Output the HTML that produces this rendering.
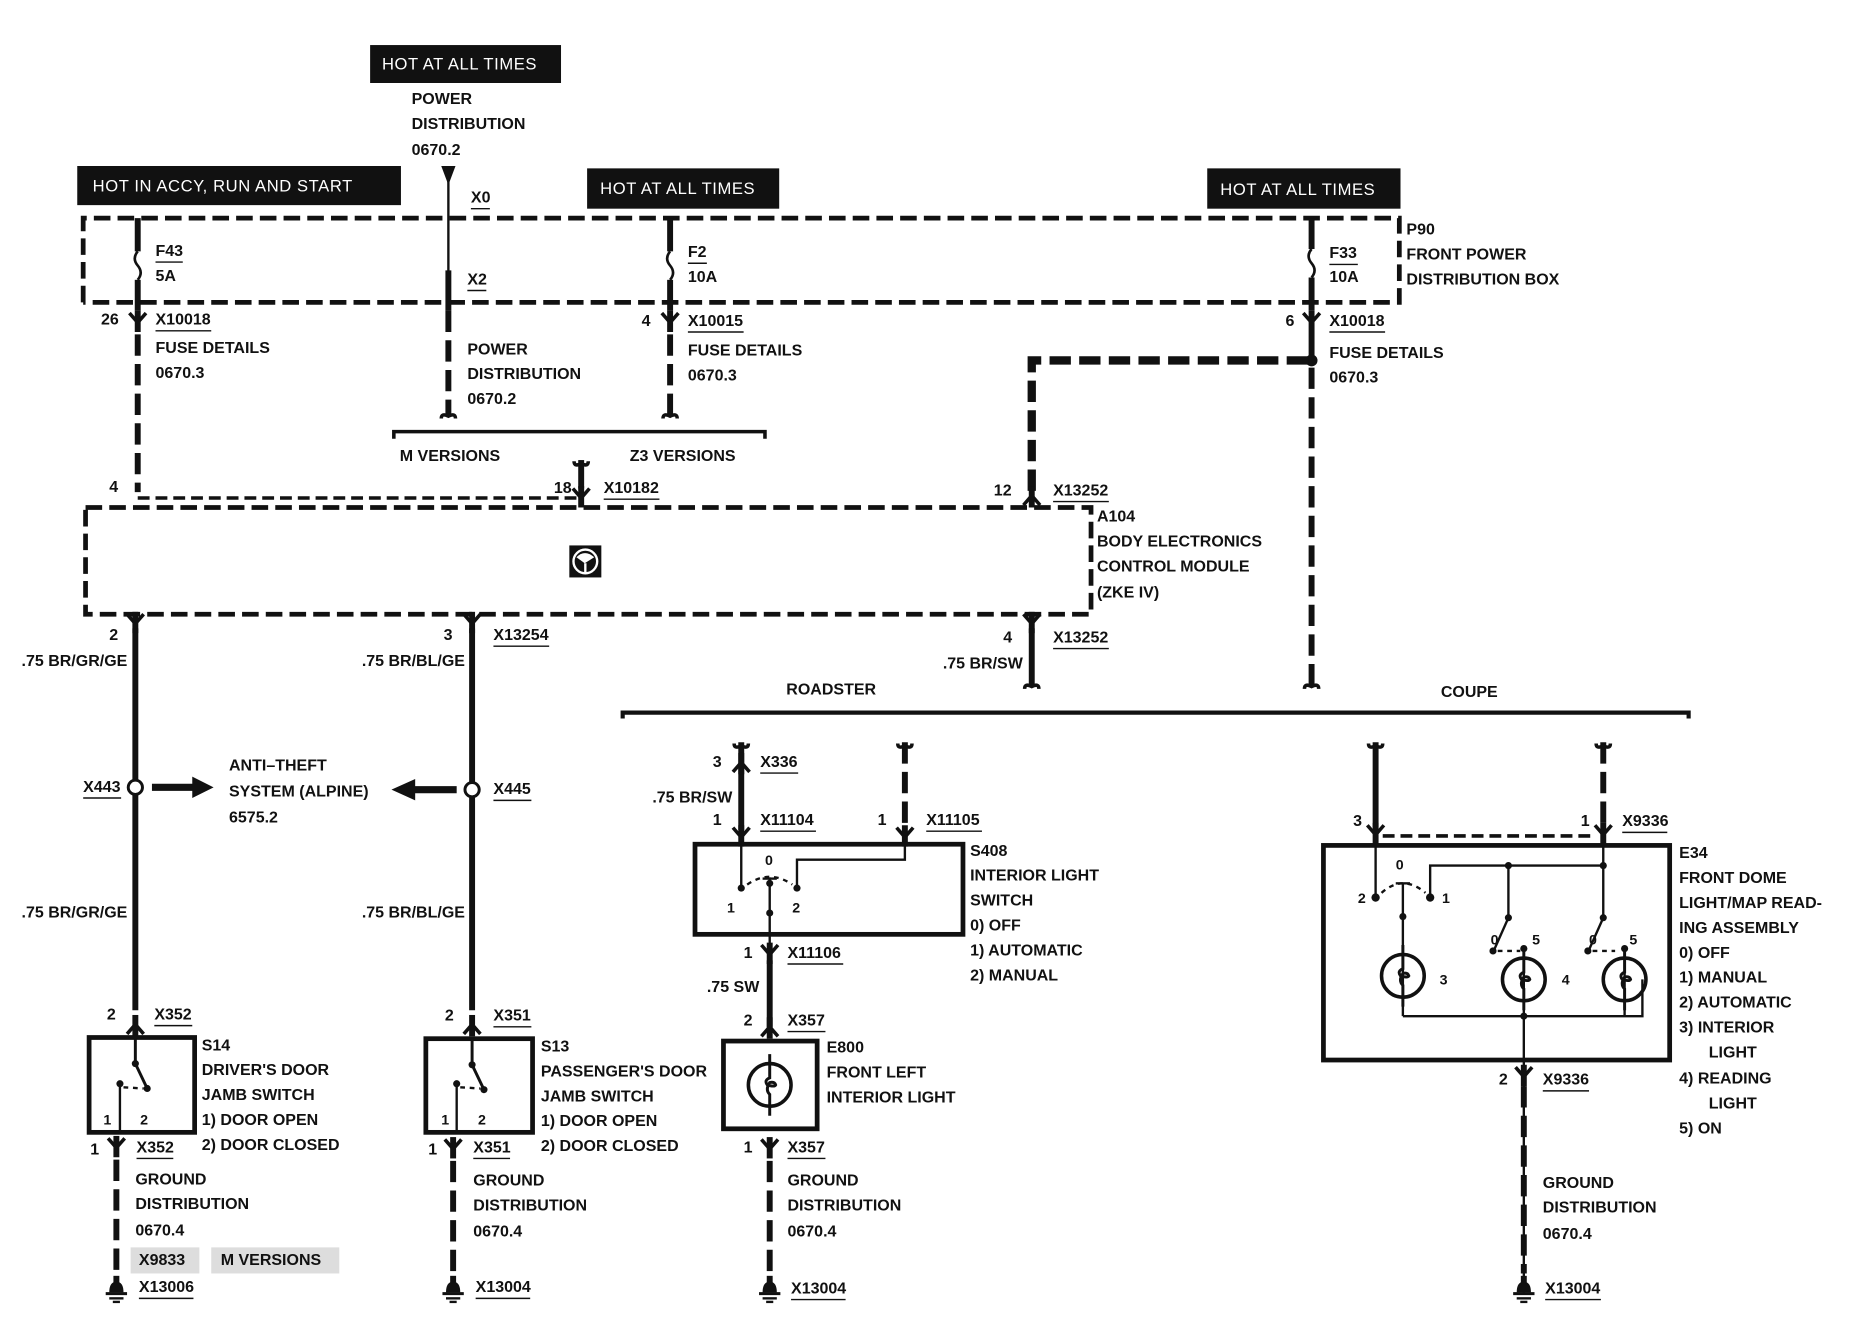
<!DOCTYPE html>
<html><head><meta charset="utf-8"><style>
html,body{margin:0;padding:0;background:#fff}
svg{display:block}
text{font-family:"Liberation Sans",sans-serif;font-size:13.5px;font-weight:bold;fill:#111;dominant-baseline:central}
.w{fill:#fff;font-size:14px;letter-spacing:0.5px;font-weight:normal}
.th{stroke:#111;stroke-width:5;fill:none}
.tn{stroke:#111;stroke-width:2;fill:none}
.dh{stroke:#111;stroke-width:5;fill:none;stroke-dasharray:18 7}
.db{stroke:#111;stroke-width:4;fill:none;stroke-dasharray:14 6}
.ul{stroke:#111;stroke-width:1.2}
</style></head><body>
<svg width="1856" height="1328" viewBox="0 0 1565 1120" xmlns="http://www.w3.org/2000/svg">
<defs>
<g id="cd"><path d="M-7,-6 L0,2 L7,-6" stroke="#111" stroke-width="3" fill="none"/><line x1="0" y1="-8" x2="0" y2="10" stroke="#111" stroke-width="5"/></g>
<g id="cu"><path d="M-7,6 L0,-2 L7,6" stroke="#111" stroke-width="3" fill="none"/><line x1="0" y1="-10" x2="0" y2="8" stroke="#111" stroke-width="5"/></g>
<g id="hk"><path d="M-6,-3 Q-6,-8 0,-5 Q6,-8 6,-3" stroke="#111" stroke-width="3" fill="none"/></g>
<g id="hu"><path d="M-6,3 Q-6,8 0,5 Q6,8 6,3" stroke="#111" stroke-width="3" fill="none"/></g>
<g id="fuse"><path d="M0,0 Q-5,6 0,12 Q5,18 0,24" stroke="#111" stroke-width="2.2" fill="none"/></g>
<g id="gnd"><line x1="0" y1="-12" x2="0" y2="-4" stroke="#111" stroke-width="5"/><path d="M-6,2 Q-6,-7 0,-7 Q6,-7 6,2 Z" fill="#111"/><line x1="-9" y1="3" x2="9" y2="3" stroke="#111" stroke-width="2.5"/><line x1="-6" y1="7" x2="6" y2="7" stroke="#111" stroke-width="2"/><line x1="-3" y1="10" x2="3" y2="10" stroke="#111" stroke-width="2"/></g>
<g id="lamp"><circle r="18" stroke="#111" stroke-width="3" fill="none"/><path d="M0,-26 L0,-6 Q-5,-4 -2,0 Q4,2 5,0 Q4,-3 0,-2 Q-4,4 0,8 L0,26" stroke="#111" stroke-width="2.5" fill="none"/></g>
</defs>

<rect x="312" y="38" width="161" height="32" fill="#111"/><text class="w" x="322" y="54">HOT AT ALL TIMES</text>
<rect x="65" y="140" width="273" height="33" fill="#111"/><text class="w" x="78" y="157">HOT IN ACCY, RUN AND  START</text>
<rect x="495" y="142" width="162" height="34" fill="#111"/><text class="w" x="506" y="159">HOT AT ALL TIMES</text>
<rect x="1018" y="142" width="163" height="34" fill="#111"/><text class="w" x="1029" y="160">HOT AT ALL TIMES</text>

<path class="db" d="M70,255 L70,184 L1180,184 L1180,255 L70,255"/>
<text x="1186" y="194">P90</text><text x="1186" y="215">FRONT POWER</text><text x="1186" y="236">DISTRIBUTION BOX</text>

<line class="th" x1="116" y1="184" x2="116" y2="212"/><use href="#fuse" x="116" y="212"/><line class="th" x1="116" y1="236" x2="116" y2="262"/>
<use href="#cd" x="116" y="270"/><line class="dh" x1="116" y1="282" x2="116" y2="415"/>
<text x="131" y="212">F43</text><line class="ul" x1="131" y1="221" x2="154" y2="221"/><text x="131" y="233">5A</text>
<text x="85" y="270">26</text><text x="131" y="270">X10018</text><line class="ul" x1="131" y1="279" x2="178" y2="279"/>
<text x="131" y="294">FUSE DETAILS</text><text x="131" y="315">0670.3</text>
<text x="92" y="411">4</text>

<path d="M372,140 L384,140 L378,156 Z" fill="#111"/><line class="tn" x1="378" y1="150" x2="378" y2="232"/>
<line class="th" x1="378" y1="228" x2="378" y2="262"/><line class="dh" x1="378" y1="262" x2="378" y2="350"/><use href="#hk" x="378" y="356"/>
<text x="347" y="84">POWER</text><text x="347" y="105">DISTRIBUTION</text><text x="347" y="127">0670.2</text>
<text x="397" y="167">X0</text><line class="ul" x1="397" y1="176" x2="413" y2="176"/>
<text x="394" y="236">X2</text><line class="ul" x1="394" y1="245" x2="410" y2="245"/>
<text x="394" y="295">POWER</text><text x="394" y="316">DISTRIBUTION</text><text x="394" y="337">0670.2</text>

<line class="th" x1="565" y1="184" x2="565" y2="212"/><use href="#fuse" x="565" y="212"/><line class="th" x1="565" y1="236" x2="565" y2="262"/>
<use href="#cd" x="565" y="270"/><line class="dh" x1="565" y1="282" x2="565" y2="350"/><use href="#hk" x="565" y="356"/>
<text x="580" y="213">F2</text><line class="ul" x1="580" y1="222" x2="596" y2="222"/><text x="580" y="234">10A</text>
<text x="541" y="271">4</text><text x="580" y="271">X10015</text><line class="ul" x1="580" y1="280" x2="627" y2="280"/>
<text x="580" y="296">FUSE DETAILS</text><text x="580" y="317">0670.3</text>

<path d="M332,370 L332,364 L645,364 L645,370" stroke="#111" stroke-width="3" fill="none"/>
<text x="337" y="385">M VERSIONS</text><text x="531" y="385">Z3 VERSIONS</text>
<use href="#hu" x="490" y="386"/><line class="th" x1="490" y1="388" x2="490" y2="412"/><use href="#cd" x="490" y="418"/>
<text x="467" y="412">18</text><text x="509" y="412">X10182</text><line class="ul" x1="509" y1="421" x2="556" y2="421"/>
<line stroke="#111" stroke-width="3" stroke-dasharray="10 5" x1="116" y1="420" x2="490" y2="420"/>

<line class="th" x1="1106" y1="184" x2="1106" y2="210"/><use href="#fuse" x="1106" y="210"/><line class="th" x1="1106" y1="234" x2="1106" y2="262"/>
<use href="#cd" x="1106" y="270"/><line class="th" x1="1106" y1="280" x2="1106" y2="305"/><circle cx="1106" cy="304" r="5" fill="#111"/>
<line class="dh" x1="1106" y1="310" x2="1106" y2="578"/><use href="#hk" x="1106" y="584"/>
<text x="1121" y="214">F33</text><line class="ul" x1="1121" y1="223" x2="1145" y2="223"/><text x="1121" y="234">10A</text>
<text x="1084" y="271">6</text><text x="1121" y="271">X10018</text><line class="ul" x1="1121" y1="280" x2="1168" y2="280"/>
<text x="1121" y="298">FUSE DETAILS</text><text x="1121" y="319">0670.3</text>
<path class="dh" d="M1103,304 L870,304 L870,415" style="stroke-width:7"/>
<use href="#cu" x="870" y="420"/>
<text x="838" y="414">12</text><text x="888" y="414">X13252</text><line class="ul" x1="888" y1="423" x2="935" y2="423"/>

<path class="db" d="M72,428 L920,428 L920,518 L72,518 Z"/>
<text x="925" y="436">A104</text><text x="925" y="457">BODY ELECTRONICS</text><text x="925" y="478">CONTROL MODULE</text><text x="925" y="500">(ZKE IV)</text>
<rect x="480" y="460" width="27" height="27" fill="#111"/><circle cx="493.5" cy="473.5" r="10" stroke="#fff" stroke-width="2" fill="none"/><path d="M486,470 Q493,463 501,470 L493,475 Z" fill="#fff"/><line x1="493.5" y1="475" x2="493.5" y2="483" stroke="#fff" stroke-width="2"/>

<use href="#cd" x="114" y="524"/><line class="th" x1="114" y1="530" x2="114" y2="852"/>
<text x="92" y="536">2</text><text x="18" y="558">.75 BR/GR/GE</text>
<circle cx="114" cy="664" r="6" fill="#fff" stroke="#111" stroke-width="2.5"/>
<text x="70" y="664">X443</text><line class="ul" x1="70" y1="673" x2="102" y2="673"/>
<path d="M128,661 L162,661 L162,655 L180,664 L162,673 L162,667 L128,667 Z" fill="#111"/>
<text x="193" y="646">ANTI–THEFT</text><text x="193" y="668">SYSTEM (ALPINE)</text><text x="193" y="690">6575.2</text>
<text x="18" y="770">.75 BR/GR/GE</text>
<text x="90" y="856">2</text><text x="130" y="856">X352</text><line class="ul" x1="130" y1="865" x2="162" y2="865"/>
<use href="#cu" x="114" y="866"/>

<use href="#cd" x="398" y="524"/><line class="th" x1="398" y1="530" x2="398" y2="852"/>
<text x="374" y="536">3</text><text x="416" y="536">X13254</text><line class="ul" x1="416" y1="545" x2="463" y2="545"/><text x="305" y="558">.75 BR/BL/GE</text>
<circle cx="398" cy="666" r="6" fill="#fff" stroke="#111" stroke-width="2.5"/>
<text x="416" y="666">X445</text><line class="ul" x1="416" y1="675" x2="448" y2="675"/>
<path d="M385,663 L350,663 L350,657 L330,666 L350,675 L350,669 L385,669 Z" fill="#111"/>
<text x="305" y="770">.75 BR/BL/GE</text>
<text x="375" y="857">2</text><text x="416" y="857">X351</text><line class="ul" x1="416" y1="866" x2="448" y2="866"/>
<use href="#cu" x="398" y="866"/>

<rect x="75" y="875" width="89" height="80" stroke="#111" stroke-width="4" fill="none"/>
<path d="M114,875 L114,897 L124,918" stroke="#111" stroke-width="2.5" fill="none"/><circle cx="114" cy="897" r="3" fill="#111"/><circle cx="124" cy="918" r="3" fill="#111"/>
<path d="M101,955 L101,914" stroke="#111" stroke-width="2" fill="none"/><circle cx="101" cy="914" r="3" fill="#111"/><line x1="104" y1="917" x2="121" y2="918" stroke="#111" stroke-width="2" stroke-dasharray="4 4"/>
<text x="87" y="945" style="font-size:12px">1</text><text x="118" y="945" style="font-size:12px">2</text>
<text x="170" y="882">S14</text><text x="170" y="903">DRIVER'S DOOR</text><text x="170" y="924">JAMB SWITCH</text><text x="170" y="945">1)   DOOR OPEN</text><text x="170" y="966">2)   DOOR CLOSED</text>
<use href="#cd" x="98" y="966"/><line class="dh" x1="98" y1="978" x2="98" y2="1074"/><use href="#gnd" x="98" y="1088"/>
<text x="76" y="970">1</text><text x="115" y="968">X352</text><line class="ul" x1="115" y1="977" x2="146" y2="977"/>
<text x="114" y="995">GROUND</text><text x="114" y="1016">DISTRIBUTION</text><text x="114" y="1038">0670.4</text>
<rect x="110" y="1052" width="58" height="22" fill="#ddd"/><rect x="178" y="1052" width="108" height="22" fill="#ddd"/>
<text x="117" y="1063">X9833</text><text x="186" y="1063">M VERSIONS</text>
<text x="117" y="1086">X13006</text><line class="ul" x1="117" y1="1095" x2="163" y2="1095"/>

<rect x="359" y="876" width="90" height="79" stroke="#111" stroke-width="4" fill="none"/>
<path d="M398,876 L398,898 L408,919" stroke="#111" stroke-width="2.5" fill="none"/><circle cx="398" cy="898" r="3" fill="#111"/><circle cx="408" cy="919" r="3" fill="#111"/>
<path d="M385,955 L385,914" stroke="#111" stroke-width="2" fill="none"/><circle cx="385" cy="914" r="3" fill="#111"/><line x1="388" y1="917" x2="405" y2="918" stroke="#111" stroke-width="2" stroke-dasharray="4 4"/>
<text x="372" y="945" style="font-size:12px">1</text><text x="403" y="945" style="font-size:12px">2</text>
<text x="456" y="883">S13</text><text x="456" y="904">PASSENGER'S DOOR</text><text x="456" y="925">JAMB SWITCH</text><text x="456" y="946">1)   DOOR OPEN</text><text x="456" y="967">2)   DOOR CLOSED</text>
<use href="#cd" x="382" y="967"/><line class="dh" x1="382" y1="979" x2="382" y2="1074"/><use href="#gnd" x="382" y="1088"/>
<text x="361" y="970">1</text><text x="399" y="968">X351</text><line class="ul" x1="399" y1="977" x2="430" y2="977"/>
<text x="399" y="996">GROUND</text><text x="399" y="1017">DISTRIBUTION</text><text x="399" y="1039">0670.4</text>
<text x="401" y="1086">X13004</text><line class="ul" x1="401" y1="1095" x2="447" y2="1095"/>

<use href="#cd" x="870" y="524"/><line class="th" x1="870" y1="530" x2="870" y2="578"/><use href="#hk" x="870" y="584"/>
<text x="846" y="538">4</text><text x="888" y="538">X13252</text><line class="ul" x1="888" y1="547" x2="935" y2="547"/><text x="795" y="560">.75 BR/SW</text>

<path d="M525,606 L525,601 L1424,601 L1424,606" stroke="#111" stroke-width="3.5" fill="none"/>
<text x="663" y="582">ROADSTER</text><text x="1215" y="584">COUPE</text>

<use href="#hu" x="625" y="624"/><line class="th" x1="625" y1="626" x2="625" y2="700"/><use href="#cu" x="625" y="645"/><use href="#cd" x="625" y="704"/>
<text x="601" y="643">3</text><text x="641" y="643">X336</text><line class="ul" x1="641" y1="652" x2="673" y2="652"/>
<text x="550" y="673">.75 BR/SW</text>
<text x="601" y="692">1</text><text x="641" y="692">X11104</text><line class="ul" x1="641" y1="701" x2="688" y2="701"/>
<use href="#hu" x="763" y="624"/><line class="dh" x1="763" y1="626" x2="763" y2="700"/><use href="#cd" x="763" y="704"/>
<text x="740" y="692">1</text><text x="781" y="692">X11105</text><line class="ul" x1="781" y1="701" x2="828" y2="701"/>
<rect x="586" y="712" width="226" height="76" stroke="#111" stroke-width="4" fill="none"/>
<path d="M625,712 L625,749" class="tn"/><circle cx="625" cy="749" r="3" fill="#111"/>
<path d="M763,712 L763,725 L672,725 L672,749" class="tn"/><circle cx="672" cy="749" r="3" fill="#111"/>
<path d="M630,746 Q649,733 668,746" stroke="#111" stroke-width="2" stroke-dasharray="4 4" fill="none"/>
<line class="tn" x1="649" y1="740" x2="649" y2="800"/><line x1="643" y1="741" x2="655" y2="741" stroke="#111" stroke-width="2"/>
<circle cx="649" cy="745" r="3" fill="#111"/><circle cx="649" cy="770" r="3" fill="#111"/>
<text x="645" y="726" style="font-size:12px">0</text><text x="613" y="766" style="font-size:12px">1</text><text x="668" y="766" style="font-size:12px">2</text>
<text x="818" y="718">S408</text><text x="818" y="739">INTERIOR LIGHT</text><text x="818" y="760">SWITCH</text><text x="818" y="781">0)    OFF</text><text x="818" y="802">1)    AUTOMATIC</text><text x="818" y="823">2)    MANUAL</text>
<use href="#cd" x="649" y="803"/><line class="th" x1="649" y1="810" x2="649" y2="866"/><use href="#cu" x="649" y="868"/>
<text x="627" y="804">1</text><text x="664" y="804">X11106</text><line class="ul" x1="664" y1="813" x2="711" y2="813"/>
<text x="596" y="833">.75 SW</text>
<text x="627" y="861">2</text><text x="664" y="861">X357</text><line class="ul" x1="664" y1="870" x2="696" y2="870"/>
<rect x="610" y="878" width="79" height="74" stroke="#111" stroke-width="4" fill="none"/>
<use href="#lamp" x="649" y="915"/>
<text x="697" y="884">E800</text><text x="697" y="905">FRONT LEFT</text><text x="697" y="926">INTERIOR LIGHT</text>
<use href="#cd" x="649" y="967"/><line class="dh" x1="649" y1="979" x2="649" y2="1074"/><use href="#gnd" x="649" y="1088"/>
<text x="627" y="968">1</text><text x="664" y="968">X357</text><line class="ul" x1="664" y1="977" x2="696" y2="977"/>
<text x="664" y="996">GROUND</text><text x="664" y="1017">DISTRIBUTION</text><text x="664" y="1039">0670.4</text>
<text x="667" y="1087">X13004</text><line class="ul" x1="667" y1="1096" x2="713" y2="1096"/>

<use href="#hu" x="1160" y="624"/><line class="th" x1="1160" y1="626" x2="1160" y2="698"/><use href="#cd" x="1160" y="702"/>
<use href="#hu" x="1352" y="624"/><line class="dh" x1="1352" y1="626" x2="1352" y2="698"/><use href="#cd" x="1352" y="702"/>
<line stroke="#111" stroke-width="3" stroke-dasharray="10 5" x1="1166" y1="705" x2="1346" y2="705"/>
<text x="1141" y="693">3</text><text x="1333" y="693">1</text><text x="1368" y="693">X9336</text><line class="ul" x1="1368" y1="702" x2="1406" y2="702"/>
<rect x="1116" y="713" width="292" height="181" stroke="#111" stroke-width="4" fill="none"/>
<line class="tn" x1="1160" y1="713" x2="1160" y2="757"/><circle cx="1160" cy="757" r="3.5" fill="#111"/>
<path class="tn" d="M1352,713 L1352,774 L1340,801"/><path class="tn" d="M1206,757 L1206,730 L1352,730"/><circle cx="1206" cy="757" r="3.5" fill="#111"/>
<circle cx="1352" cy="730" r="3" fill="#111"/><circle cx="1272" cy="730" r="3" fill="#111"/><path class="tn" d="M1272,730 L1272,774 L1260,801"/>
<circle cx="1272" cy="774" r="3" fill="#111"/><circle cx="1352" cy="774" r="3" fill="#111"/>
<circle cx="1259" cy="802" r="3" fill="#111"/><circle cx="1339" cy="802" r="3" fill="#111"/>
<line x1="1263" y1="802" x2="1282" y2="802" stroke="#111" stroke-width="2" stroke-dasharray="4 4"/><line x1="1343" y1="802" x2="1362" y2="802" stroke="#111" stroke-width="2" stroke-dasharray="4 4"/>
<path d="M1165,753 Q1183,737 1202,753" stroke="#111" stroke-width="2" stroke-dasharray="4 4" fill="none"/>
<line x1="1177" y1="745" x2="1189" y2="745" stroke="#111" stroke-width="2"/>
<line class="tn" x1="1183" y1="745" x2="1183" y2="857"/><circle cx="1183" cy="773" r="3" fill="#111"/>
<line class="tn" x1="1285" y1="800" x2="1285" y2="1090"/><circle cx="1285" cy="800" r="3" fill="#111"/>
<path class="tn" d="M1370,800 L1370,857"/><circle cx="1370" cy="800" r="3" fill="#111"/>
<path class="tn" d="M1183,857 L1385,857 L1385,826"/><circle cx="1285" cy="857" r="3" fill="#111"/>
<use href="#lamp" x="1183" y="823"/><use href="#lamp" x="1285" y="826"/><use href="#lamp" x="1370" y="826"/>
<text x="1177" y="730" style="font-size:12px">0</text><text x="1145" y="758" style="font-size:12px">2</text><text x="1216" y="758" style="font-size:12px">1</text>
<text x="1257" y="793" style="font-size:12px">0</text><text x="1292" y="793" style="font-size:12px">5</text><text x="1340" y="793" style="font-size:12px">0</text><text x="1374" y="793" style="font-size:12px">5</text>
<text x="1214" y="827" style="font-size:12px">3</text><text x="1317" y="827" style="font-size:12px">4</text>
<text x="1416" y="720">E34</text><text x="1416" y="741">FRONT DOME</text><text x="1416" y="762">LIGHT/MAP READ-</text><text x="1416" y="783">ING ASSEMBLY</text>
<text x="1416" y="804">0)    OFF</text><text x="1416" y="825">1)    MANUAL</text><text x="1416" y="846">2)    AUTOMATIC</text><text x="1416" y="867">3)    INTERIOR</text><text x="1441" y="888">LIGHT</text><text x="1416" y="910">4)    READING</text><text x="1441" y="931">LIGHT</text><text x="1416" y="952">5)    ON</text>
<use href="#cd" x="1285" y="906"/><line class="dh" x1="1285" y1="916" x2="1285" y2="1074"/><use href="#gnd" x="1285" y="1088"/>
<text x="1264" y="911">2</text><text x="1301" y="911">X9336</text><line class="ul" x1="1301" y1="920" x2="1340" y2="920"/>
<text x="1301" y="998">GROUND</text><text x="1301" y="1019">DISTRIBUTION</text><text x="1301" y="1041">0670.4</text>
<text x="1303" y="1087">X13004</text><line class="ul" x1="1303" y1="1096" x2="1350" y2="1096"/>
</svg>
</body></html>
